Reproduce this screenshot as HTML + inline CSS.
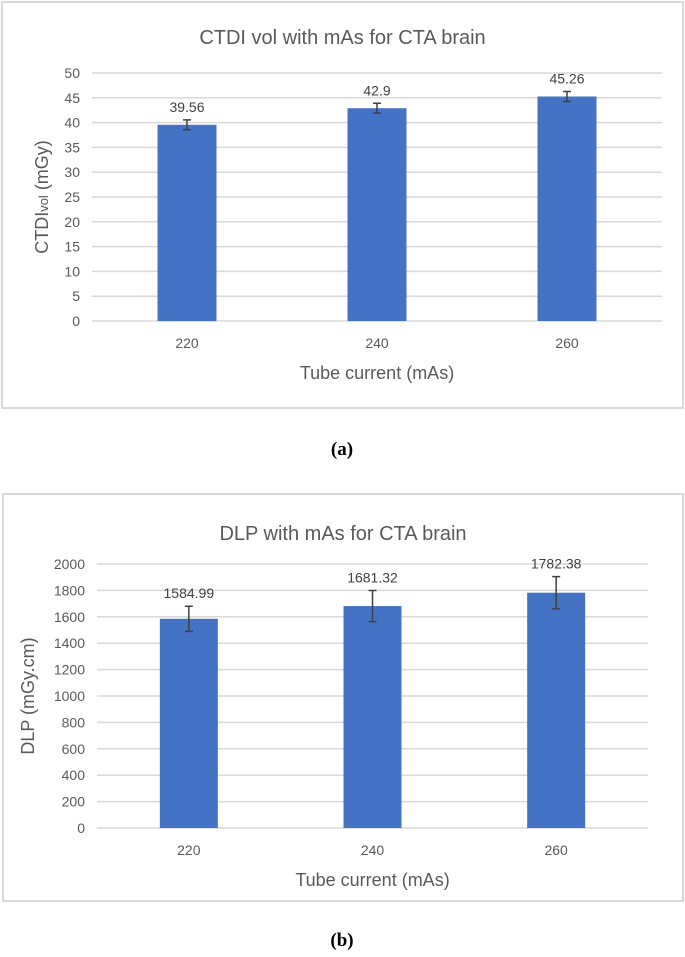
<!DOCTYPE html>
<html><head><meta charset="utf-8">
<style>
body{margin:0;background:#fff;width:685px;height:952px;overflow:hidden;font-family:"Liberation Sans",sans-serif}
svg text{font-family:"Liberation Sans",sans-serif}
svg text.cap{font-family:"Liberation Serif",serif}
</style></head><body>
<svg id="s" width="685" height="952"></svg>
<script>
const catsA=["220","240","260"];
const valsA=[39.56,42.9,45.26];
const errA=[1.0,1.0,1.0];
const ticksA=[0,5,10,15,20,25,30,35,40,45,50];
const labelsA=["39.56","42.9","45.26"];
const catsB=["220","240","260"];
const valsB=[1584.99,1681.32,1782.38];
const errB=[95,118,122];
const ticksB=[0,200,400,600,800,1000,1200,1400,1600,1800,2000];
const labelsB=["1584.99","1681.32","1782.38"];
const NS="http://www.w3.org/2000/svg";
const svg=document.getElementById('s');
function el(t,a,p){const e=document.createElementNS(NS,t);for(const k in a)e.setAttribute(k,a[k]);(p||svg).appendChild(e);return e;}
function chart(o){
  const g=el('g',{});
  
  
  const fr=el('rect',{x:o.fx,y:o.fy,width:o.fw,height:o.fh,fill:'#fff',stroke:'#d9d9d9','stroke-width':2},g);
  
  
  const y=v=>o.y0-(v-o.min)/(o.max-o.min)*(o.y0-o.y1);
  const band=(o.x1-o.x0)/o.cats.length;
  const xc=i=>o.x0+band*(i+0.5);
  o.ticks.forEach(t=>{
    const l=el('line',{x1:o.x0,x2:o.x1,y1:y(t),y2:y(t),stroke:'#d9d9d9','stroke-width':1.5},g);
    
    
    const tx=el('text',{x:o.x0-12,y:y(t)+5,'text-anchor':'end','font-size':14,fill:'#595959'},g);
    tx.textContent=t;
    
    
  });
  o.vals.forEach((v,i)=>{
    const b=el('rect',{x:xc(i)-o.bw/2,y:y(v),width:o.bw,height:y(o.min)-y(v),fill:'#4472c4'},g);
    
    
    const e=o.err[i],hi=y(v+e),lo=y(v-e),c=xc(i);
    const eb=el('path',{d:`M${c},${hi}V${lo}M${c-4},${hi}H${c+4}M${c-4},${lo}H${c+4}`,stroke:'#404040','stroke-width':1.5,fill:'none'},g);
    
    
    const dl=el('text',{x:c,y:Math.min(hi,y(v))-8,'text-anchor':'middle','font-size':14,fill:'#404040'},g);
    dl.textContent=o.labels[i];
    
    
    const xl=el('text',{x:c,y:o.y0+27,'text-anchor':'middle','font-size':14,fill:'#595959'},g);
    xl.textContent=o.cats[i];
    
    
  });
  const ti=el('text',{x:(o.fx*2+o.fw)/2,y:o.ty,'text-anchor':'middle','font-size':20,fill:'#595959'},g);
  ti.textContent=o.title;
  
  
  const xt=el('text',{x:(o.x0+o.x1)/2,y:o.y0+58,'text-anchor':'middle','font-size':18,fill:'#595959'},g);
  xt.textContent='Tube current (mAs)';
  
  
  const yt=el('text',{x:0,y:0,'text-anchor':'middle','font-size':18,fill:'#595959',transform:`translate(${o.ytx},${(o.y0+o.y1)/2}) rotate(-90)`},g);
  yt.innerHTML=o.ytitle;
  
  
  const cap=el('text',{x:342,y:o.cy,'text-anchor':'middle','font-size':19,'font-weight':'bold',fill:'#000','class':'cap'},svg);
  cap.textContent=o.cap;
  
  
}
chart({name:'ctdi-chart',fx:2,fy:2,fw:681,fh:406,x0:92,x1:662,y0:321,y1:73,min:0,max:50,bw:59,
  cats:catsA,vals:valsA,err:errA,ticks:ticksA,labels:labelsA,title:'CTDI vol with mAs for CTA brain',ty:44,
  ytitle:'CTDI<tspan font-size="13">vol</tspan> (mGy)',ytx:48,cap:'(a)',cy:455});
chart({name:'dlp-chart',fx:3,fy:494,fw:680,fh:407,x0:97,x1:648,y0:828,y1:564,min:0,max:2000,bw:58,
  cats:catsB,vals:valsB,err:errB,ticks:ticksB,labels:labelsB,title:'DLP with mAs for CTA brain',ty:540,
  ytitle:'DLP (mGy.cm)',ytx:34,cap:'(b)',cy:946});
</script>
</body></html>
